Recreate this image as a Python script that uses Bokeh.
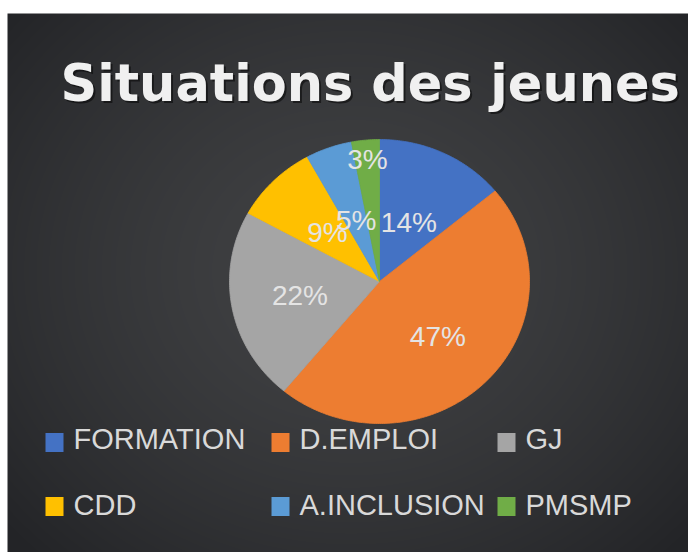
import numpy as np
from bokeh.plotting import figure
from bokeh.models import Range1d
from bokeh.core.properties import value
from bokeh.embed import file_html
from bokeh.resources import INLINE

# --- data -------------------------------------------------------------
categories = ["FORMATION", "D.EMPLOI", "GJ", "CDD", "A.INCLUSION", "PMSMP"]
shares = [14, 47, 22, 9, 5, 3]
colors = ["#4472C4", "#ED7D31", "#A5A5A5", "#FFC000", "#5B9BD5", "#70AD47"]
title_text = "Situations des jeunes"

# --- layout (page pixels, origin top-left) ----------------------------
W, H = 688, 552
CX, CY = 379, 281          # pie centre
RX, RY = 150, 142          # pie radii (slightly wide ellipse)
label_r = [0.46, 0.55, 0.54, 0.49, 0.46, 0.86]   # label distance, fraction of radius
legend_cols = [54, 280, 506]                      # marker centres
legend_rows = [442, 506]
legend_text_mid = [438, 504]


def px(x):
    return (x - CX) / RX


def py(y):
    return (CY - y) / RY


p = figure(width=W, height=H, output_backend="svg", toolbar_location=None,
           x_range=Range1d(px(0), px(W)), y_range=Range1d(py(H), py(0)),
           x_axis_location=None, y_axis_location=None,
           min_border=0, outline_line_color=None)
p.grid.visible = False
p.background_fill_color = "#ffffff"
p.border_fill_color = "#ffffff"

# dark radial-gradient chart area with a thin white margin top and left
yy, xx = np.mgrid[0:H, 0:W]
d = np.sqrt(((xx - 350) / 460.0) ** 2 + ((yy - 270) / 400.0) ** 2)
t = np.clip(d, 0, 1) ** 1.5
inner = np.array([0x41, 0x42, 0x44], dtype=float)
outer = np.array([0x23, 0x24, 0x27], dtype=float)
rgb = inner + (outer - inner) * t[..., None]
img = np.zeros((H, W), dtype=np.uint32)
view = img.view(dtype=np.uint8).reshape((H, W, 4))
view[..., :3] = rgb.astype(np.uint8)
view[..., 3] = 255
view[(xx < 7) | (yy < 13)] = [255, 255, 255, 255]
p.image_rgba(image=[img[::-1].copy()], x=px(0), y=py(H), dw=W / RX, dh=H / RY)

# --- pie slices, clockwise from 12 o'clock -----------------------------
fr = np.array(shares, dtype=float) / sum(shares)
ends = np.cumsum(fr) * 2 * np.pi
starts = ends - fr * 2 * np.pi
slice_xs, slice_ys = [], []
for a0, a1 in zip(starts, ends):
    a = np.linspace(a0, a1, max(int((a1 - a0) * 80), 8))
    slice_xs.append([0.0] + list(np.sin(a)))
    slice_ys.append([0.0] + list(np.cos(a)))
p.patches(slice_xs, slice_ys, fill_color=colors, line_color=colors, line_width=0.8)

# percentage labels
mid = (starts + ends) / 2
lr = np.array(label_r)
p.text(x=lr * np.sin(mid), y=lr * np.cos(mid), text=[f"{v}%" for v in shares],
       text_align="center", text_baseline="middle",
       text_font=value("Liberation Sans"), text_font_size="28px",
       text_color="#e4e4e4")

# --- title with a soft drop shadow ------------------------------------
p.text(x=[px(62)], y=[py(85)], text=[title_text], text_align="left",
       text_baseline="middle", text_font=value("DejaVu Sans"),
       text_font_style="bold", text_font_size="51px",
       text_color="#000000", text_alpha=0.5)
p.text(x=[px(60)], y=[py(83)], text=[title_text], text_align="left",
       text_baseline="middle", text_font=value("DejaVu Sans"),
       text_font_style="bold", text_font_size="51px", text_color="#f0f0f0")

# --- legend: two rows of three ----------------------------------------
mk_x = [px(legend_cols[i % 3]) for i in range(len(categories))]
mk_y = [py(legend_rows[i // 3]) for i in range(len(categories))]
p.rect(x=mk_x, y=mk_y, width=18, height=19, width_units="screen",
       height_units="screen", fill_color=colors, line_color=None)
tx_x = [px(legend_cols[i % 3] + 19) for i in range(len(categories))]
tx_y = [py(legend_text_mid[i // 3]) for i in range(len(categories))]
p.text(x=tx_x, y=tx_y, text=categories, text_align="left",
       text_baseline="middle", text_font=value("Liberation Sans"),
       text_font_size="29px", text_color="#d9d9d9")

open("out.html", "w").write(file_html(p, INLINE))
